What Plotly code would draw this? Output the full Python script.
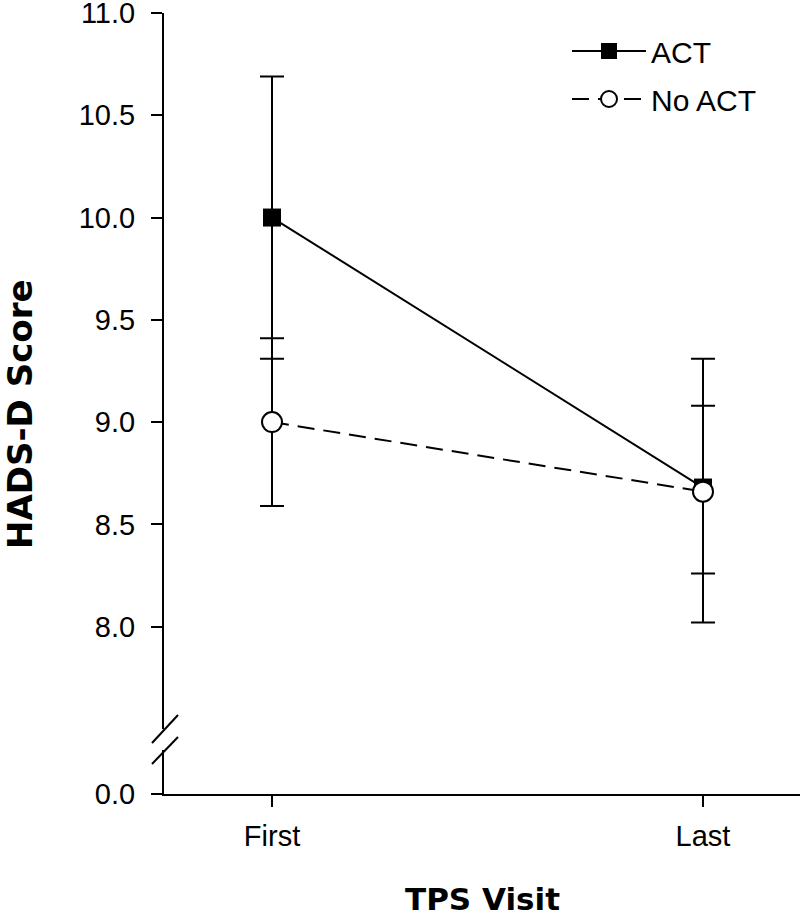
import plotly.graph_objects as go

# ---- data ----
visits = ["First", "Last"]
act_mean = [10.0, 8.68]
act_err_plus = [0.69, 0.63]
act_err_minus = [0.69, 0.66]
noact_mean = [9.0, 8.66]
noact_err_plus = [0.41, 0.42]
noact_err_minus = [0.41, 0.40]
upper_ticks = [8.0, 8.5, 9.0, 9.5, 10.0, 10.5, 11.0]
lower_ticks = [0.0]

# layout in page pixels (body margin removed via post_script)
W, H = 800, 917
L, T = 164, 13
PLOT_BOTTOM = 794
B = H - PLOT_BOTTOM
pw, ph = W - L, PLOT_BOTTOM - T

def px(xp):
    return (xp - L) / pw

def py(yp):
    return (PLOT_BOTTOM - yp) / ph

fig = go.Figure()

fig.add_trace(go.Scatter(
    x=visits, y=act_mean, name="ACT", mode="lines+markers",
    line=dict(color="black", width=2),
    marker=dict(symbol="square", size=18, color="black"),
    error_y=dict(type="data", symmetric=False, array=act_err_plus,
                 arrayminus=act_err_minus, color="black", thickness=2, width=12),
    legendgroup="a",
))
fig.add_trace(go.Scatter(
    x=visits, y=noact_mean, name="No ACT", mode="lines+markers",
    line=dict(color="black", width=2, dash="17px,9px"),
    marker=dict(symbol="circle", size=20, color="white",
                line=dict(color="black", width=2)),
    error_y=dict(type="data", symmetric=False, array=noact_err_plus,
                 arrayminus=noact_err_minus, color="black", thickness=2, width=12),
    legendgroup="b",
))
# empty trace so that the lower (broken) axis segment subplot exists
fig.add_trace(go.Scatter(x=visits, y=[None, None], yaxis="y2", mode="markers",
                         showlegend=False, hoverinfo="skip"))

tickfont = dict(family="Liberation Sans, Arial, sans-serif", size=29, color="black")
axis_common = dict(showline=True, linecolor="black", linewidth=2,
                   ticks="outside", ticklen=11, tickwidth=2, tickcolor="black",
                   tickfont=tickfont, showgrid=False, zeroline=False,
                   ticklabeloverflow="allow", automargin=False)

fig.update_layout(
    width=W, height=H,
    margin=dict(l=L, r=0, t=T, b=B, pad=0, autoexpand=False),
    paper_bgcolor="white", plot_bgcolor="white",
    showlegend=True,
    legend=dict(x=px(567), y=py(25), xanchor="left", yanchor="top",
                font=dict(family="Liberation Sans, Arial, sans-serif", size=30, color="black"),
                bgcolor="rgba(0,0,0,0)", tracegroupgap=6, itemwidth=74),
    xaxis=dict(type="category", range=[-108 / 431, (pw - 108) / 431],
               anchor="y2", ticklabelstandoff=4, **axis_common),
    yaxis=dict(domain=[py(728.9), 1], range=[7.5, 11.0], anchor="x",
               tickvals=upper_ticks, tickformat=".1f",
               ticklabelstandoff=10, **axis_common),
    yaxis2=dict(domain=[0, py(750)], range=[0, 0.2], anchor="x",
                tickvals=lower_ticks, tickformat=".1f",
                ticklabelstandoff=10, **axis_common),
)

# axis break marks and x-axis extension left of the y-axis
line_style = dict(color="black", width=2)
fig.add_shape(type="line", xref="paper", yref="paper",
              x0=px(152), y0=py(743), x1=px(178), y1=py(715), line=line_style)
fig.add_shape(type="line", xref="paper", yref="paper",
              x0=px(152), y0=py(764), x1=px(178), y1=py(737), line=line_style)
fig.add_shape(type="line", xref="paper", yref="paper",
              x0=px(153), y0=0, x1=0, y1=0, line=line_style)

title_family = "DejaVu Sans, Liberation Sans, Arial, sans-serif"
fig.add_annotation(text="<b>TPS Visit</b>", xref="paper", yref="paper",
                   x=px(482), y=py(899), xanchor="center", yanchor="middle",
                   showarrow=False, font=dict(family=title_family, size=31, color="black"))
fig.add_annotation(text="<b>HADS-D Score</b>", xref="paper", yref="paper",
                   x=px(20), y=py(415), xanchor="center", yanchor="middle",
                   textangle=-90, showarrow=False,
                   font=dict(family=title_family, size=34, color="black"))

fig.write_html("out.html",
               config={"displayModeBar": False},
               post_script="document.body.style.margin='0';document.body.style.padding='0';")
